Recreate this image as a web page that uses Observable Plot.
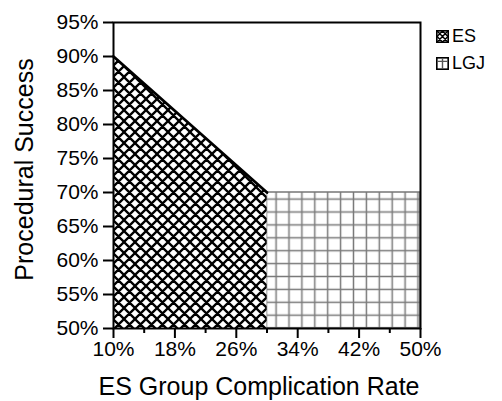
<!DOCTYPE html>
<html><head><meta charset="utf-8">
<script src="https://cdn.jsdelivr.net/npm/d3@7"></script>
<script src="https://cdn.jsdelivr.net/npm/@observablehq/plot@0.6"></script>
<style>
body{margin:0;background:#fff;}
#chart{position:relative;width:502px;height:401px;font-family:"Liberation Sans",Arial,sans-serif;}
.leg{position:absolute;left:436px;display:flex;align-items:center;font-size:18px;color:#000;line-height:1;}
.leg svg{margin-right:3px;}
</style></head><body><div id="chart"></div>
<script>
// Data
const seriesNames = ["ES", "LGJ"];
const esRate = [10, 30];
const esSuccess = [90, 70];
const lgjRate = [30, 50];
const lgjSuccess = [70, 70];
const xTicks = [10, 18, 26, 34, 42, 50];
const xMinorTicks = [14, 22, 30, 38, 46];
const yTicks = [50, 55, 60, 65, 70, 75, 80, 85, 90, 95];
const xTitle = "ES Group Complication Rate";
const yTitle = "Procedural Success";

const es = esRate.map((x, i) => ({x, y: esSuccess[i]}));
const lgj = lgjRate.map((x, i) => ({x, y: lgjSuccess[i]}));
const pct = d => d + "%";

const plot = Plot.plot({
  width: 502, height: 401,
  marginLeft: 113, marginTop: 22, marginRight: 82, marginBottom: 73,
  style: {fontFamily: "'Liberation Sans', Arial, sans-serif", fontSize: "21px", color: "#000", background: "white", overflow: "visible"},
  x: {domain: [10, 50]},
  y: {domain: [50, 95]},
  marks: [
    Plot.areaY(lgj, {x: "x", y1: 50, y2: "y", fill: "url(#gridpat)", stroke: "#777", strokeWidth: 1.5}),
    Plot.areaY(es, {x: "x", y1: 50, y2: "y", fill: "url(#crosspat)"}),
    Plot.lineY(es, {x: "x", y: "y", stroke: "black", strokeWidth: 2.8}),
    Plot.frame({stroke: "black", strokeWidth: 2}),
    Plot.axisY({ticks: yTicks, tickFormat: pct, tickSize: 10, tickPadding: 5, label: null, strokeWidth: 2, fontVariant: "normal"}),
    Plot.axisX({ticks: xTicks, tickFormat: pct, tickSize: 10, tickPadding: 3, label: null, strokeWidth: 2, fontVariant: "normal"}),
    Plot.axisX({ticks: xMinorTicks, tickFormat: () => "", tickSize: 5, label: null, strokeWidth: 2}),
    Plot.text([xTitle], {frameAnchor: "bottom", dy: 66, dx: -8, lineAnchor: "bottom", textAnchor: "middle", fontSize: 25}),
    Plot.text([yTitle], {frameAnchor: "left", rotate: -90, dx: -89, dy: -6, lineAnchor: "middle", textAnchor: "middle", fontSize: 25})
  ]
});

const defs = d3.select(plot).insert("defs", ":first-child");
const cs = 11;
const cross = defs.append("pattern").attr("id", "crosspat").attr("patternUnits", "userSpaceOnUse")
  .attr("width", cs).attr("height", cs).attr("x", 113).attr("y", 22);
cross.append("rect").attr("width", cs).attr("height", cs).attr("fill", "white");
cross.append("path")
  .attr("d", `M0,${cs} L${cs},0 M-2,2 L2,-2 M${cs-2},${cs+2} L${cs+2},${cs-2} M0,0 L${cs},${cs} M-2,${cs-2} L2,${cs+2} M${cs-2},-2 L${cs+2},2`)
  .attr("stroke", "black").attr("stroke-width", 2.3).attr("fill", "none");
const gs = 12.9;
const grid = defs.append("pattern").attr("id", "gridpat").attr("patternUnits", "userSpaceOnUse")
  .attr("width", gs).attr("height", gs).attr("x", 289 - gs / 2).attr("y", 212 - gs / 2);
grid.append("rect").attr("width", gs).attr("height", gs).attr("fill", "white");
grid.append("path").attr("d", `M${gs/2},0 V${gs} M0,${gs/2} H${gs}`)
  .attr("stroke", "#7a7a7a").attr("stroke-width", 1.5).attr("fill", "none");

const chart = document.getElementById("chart");
chart.appendChild(plot);

// Legend
const icons = {
  ES: `<svg width="13" height="13" viewBox="0 0 12 12"><rect x="0.75" y="0.75" width="10.5" height="10.5" fill="white" stroke="black" stroke-width="1.5"/><path d="M1,1 L11,11 M11,1 L1,11 M1,6 L6,1 L11,6 L6,11 Z" stroke="black" stroke-width="1.3" fill="none"/></svg>`,
  LGJ: `<svg width="13" height="13" viewBox="0 0 12 12"><rect x="0.75" y="0.75" width="10.5" height="10.5" fill="white" stroke="black" stroke-width="1.5"/><path d="M6,1 V11 M1,4 H11" stroke="#555" stroke-width="1.3" fill="none"/></svg>`
};
seriesNames.forEach((name, i) => {
  const d = document.createElement("div");
  d.className = "leg";
  d.style.top = (27 + i * 27) + "px";
  d.innerHTML = icons[name] + `<span>${name}</span>`;
  chart.appendChild(d);
});
</script>
</body></html>
